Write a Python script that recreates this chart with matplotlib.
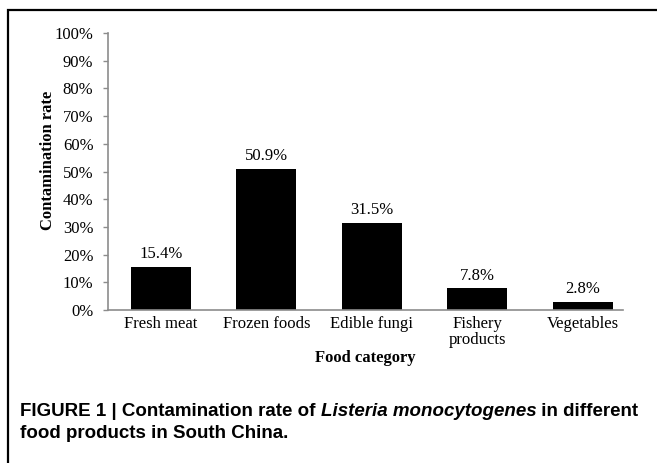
import matplotlib
matplotlib.use("Agg")
import matplotlib.pyplot as plt
from matplotlib.lines import Line2D
from matplotlib.ticker import FuncFormatter

categories = ["Fresh meat", "Frozen foods", "Edible fungi", "Fishery\nproducts", "Vegetables"]
rates = [15.4, 50.9, 31.5, 7.8, 2.8]
yticks = [0, 10, 20, 30, 40, 50, 60, 70, 80, 90, 100]

W, H = 657, 463
fig = plt.figure(figsize=(W / 100, H / 100), dpi=100)
serif = "Liberation Serif"
sans = "Liberation Sans"
fs = 12.0

ax = fig.add_axes([108 / W, 1 - 310 / H, (623 - 108) / W, (310 - 33) / H])
x = list(range(len(categories)))
ax.bar(x, rates, width=0.57, color="black")
for xi, v in zip(x, rates):
    ax.annotate(f"{v:.1f}%", (xi, v), xytext=(0, 3.5), textcoords="offset points",
                ha="center", va="bottom", fontsize=fs, family=serif)

ax.set_xlim(-0.5, 4.38)
ax.set_ylim(0, 100)
ax.set_yticks(yticks)
ax.yaxis.set_major_formatter(FuncFormatter(lambda v, p: f"{int(v)}%"))
ax.set_xticks(x)
ax.set_xticklabels(categories, fontsize=fs, family=serif, linespacing=1.05)
ax.tick_params(axis="x", length=0, pad=4)
ax.tick_params(axis="y", length=3.5, width=1, color="#8c8c8c", labelsize=fs, pad=7)
for lab in ax.get_yticklabels():
    lab.set_family(serif)
for s in ["top", "right"]:
    ax.spines[s].set_visible(False)
for s in ["left", "bottom"]:
    ax.spines[s].set_color("#8c8c8c")
    ax.spines[s].set_linewidth(1.2)

ax.set_ylabel("Contamination rate", fontsize=fs, family=serif, fontweight="bold")
ax.yaxis.set_label_coords((56 - 108) / 515, (310 - 160.5) / 277)
ax.set_xlabel("Food category", fontsize=fs, family=serif, fontweight="bold", labelpad=1)

# border
fig.add_artist(Line2D([8 / W, 8 / W, 1.0], [0.0, 1 - 10 / H, 1 - 10 / H],
                      transform=fig.transFigure, color="black", linewidth=1.6,
                      solid_joinstyle="miter"))

# caption
cfs = 13.5
y1 = 1 - 411 / H
t1 = fig.text(20 / W, y1, "FIGURE 1 | Contamination rate of ", fontsize=cfs,
              family=sans, fontweight="bold", va="center", ha="left")
fig.canvas.draw()
r = fig.canvas.get_renderer()
bb = t1.get_window_extent(r)
t2 = fig.text(bb.x1 / W, y1, "Listeria monocytogenes", fontsize=cfs, family=sans,
              fontweight="bold", style="italic", va="center", ha="left")
bb2 = t2.get_window_extent(r)
fig.text(bb2.x1 / W, y1, " in different", fontsize=cfs, family=sans,
         fontweight="bold", va="center", ha="left")
fig.text(20 / W, 1 - 433 / H, "food products in South China.", fontsize=cfs,
         family=sans, fontweight="bold", va="center", ha="left")

fig.savefig("out.png", dpi=100)
